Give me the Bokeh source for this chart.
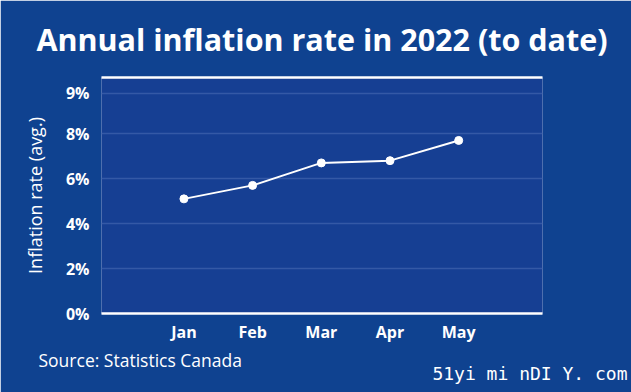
from bokeh.plotting import figure
from bokeh.models import FixedTicker, LinearAxis, Title, Range1d
from bokeh.embed import file_html
from bokeh.resources import INLINE

months = ["Jan", "Feb", "Mar", "Apr", "May"]
month_pos = [0, 1, 2, 3, 4]
inflation = [5.1, 5.7, 6.7, 6.8, 7.7]
y_tick_values = [0, 2, 4, 6, 8, 9.8]
y_tick_labels = ["0%", "2%", "4%", "6%", "8%", "9%"]

BG = "#0f4290"
FRAME_BG = "#163f93"
FONT = "Open Sans"

p = figure(width=631, height=392, output_backend="svg", toolbar_location=None,
           x_range=Range1d(-1.2, 5.22), y_range=Range1d(0, 10.5),
           min_border_left=101, min_border_right=89, min_border_top=77, min_border_bottom=79,
           border_fill_color=BG, background_fill_color=FRAME_BG, outline_line_color=None)

p.title.text = "Annual inflation rate in 2022 (to date)"
p.title.text_color = "white"
p.title.text_font = FONT
p.title.text_font_style = "bold"
p.title.text_font_size = "30.5px"
p.title.align = "center"
p.title.vertical_align = "top"
p.title.standoff = 32

p.line(month_pos, inflation, line_color="white", line_width=2)
p.scatter(month_pos, inflation, size=8, fill_color="white", line_color="white")

# y axis
ya = p.yaxis[0]
ya.ticker = FixedTicker(ticks=y_tick_values)
ya.major_label_overrides = {v: l for v, l in zip(y_tick_values, y_tick_labels)}
ya.axis_line_color = None
ya.major_tick_line_color = None
ya.minor_tick_line_color = None
ya.major_tick_out = 0
ya.major_tick_in = 0
ya.minor_tick_out = 0
ya.major_label_text_color = "white"
ya.major_label_text_font = FONT
ya.major_label_text_font_style = "bold"
ya.major_label_text_font_size = "16px"
ya.major_label_standoff = 12
ya.axis_label = "Inflation rate (avg.)"
ya.axis_label_text_color = "white"
ya.axis_label_text_font = FONT
ya.axis_label_text_font_style = "normal"
ya.axis_label_text_font_size = "18px"
ya.axis_label_standoff = 16

# x axis
xa = p.xaxis[0]
xa.ticker = FixedTicker(ticks=month_pos)
xa.major_label_overrides = {v: l for v, l in zip(month_pos, months)}
xa.axis_line_color = "white"
xa.axis_line_width = 2.5
xa.major_tick_line_color = None
xa.minor_tick_line_color = None
xa.major_tick_out = 0
xa.major_tick_in = 0
xa.minor_tick_out = 0
xa.major_label_text_color = "white"
xa.major_label_text_font = FONT
xa.major_label_text_font_style = "bold"
xa.major_label_text_font_size = "16px"
xa.major_label_standoff = 7

# top white line
top = LinearAxis(ticker=FixedTicker(ticks=[]), axis_line_color="white", axis_line_width=2.5,
                 major_tick_line_color=None, minor_tick_line_color=None,
                 major_tick_out=0, major_tick_in=0, minor_tick_out=0,
                 major_label_standoff=0)
p.add_layout(top, "above")

p.xgrid.grid_line_color = None
p.ygrid.ticker = FixedTicker(ticks=y_tick_values[1:])
p.ygrid.grid_line_color = "#3459a6"
p.ygrid.grid_line_width = 1.5

src = Title(text="Source: Statistics Canada", align="left", offset=-63,
            text_color="white", text_font=FONT, text_font_style="normal",
            text_font_size="17.5px", standoff=0)
p.add_layout(src, "below")
wm = Title(text="51yi mi nDI Y. com", align="right", offset=-85, vertical_align="top",
           text_color="white", text_font="DejaVu Sans Mono", text_font_style="normal",
           text_font_size="18px", standoff=-18)
p.add_layout(wm, "below")

open("out.html", "w").write(file_html(p, INLINE))
